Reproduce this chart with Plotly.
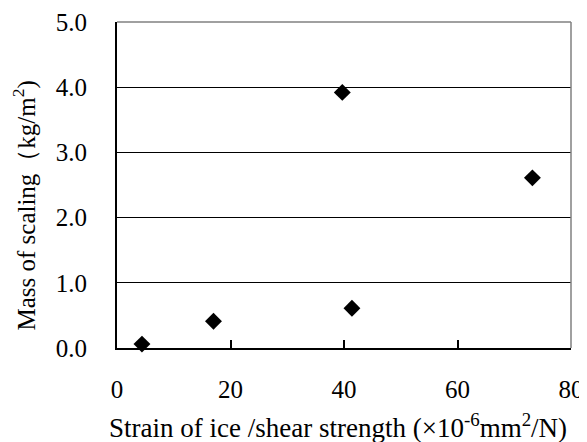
import plotly.graph_objects as go

strain = [4.4, 17.0, 39.7, 41.4, 73.2]
scaling = [0.06, 0.41, 3.92, 0.61, 2.61]
x_ticks = [0, 20, 40, 60, 80]
y_ticks = [0.0, 1.0, 2.0, 3.0, 4.0, 5.0]
y_tick_labels = ["0.0", "1.0", "2.0", "3.0", "4.0", "5.0"]
x_title = "Strain of ice /shear strength (×10<sup>-6</sup>mm<sup>2</sup>/N)"
y_title = "Mass of scaling（kg/m<sup>2</sup>)"

font = "Liberation Serif"

fig = go.Figure()
fig.add_trace(go.Scatter(
    x=strain, y=scaling, mode="markers",
    marker=dict(symbol="diamond", size=13, color="black"),
    showlegend=False, cliponaxis=False,
))

# page body has an 8px default margin, so figure is 8px smaller
fig.update_layout(
    width=579, height=434,
    margin=dict(l=109, r=16, t=14, b=94, autoexpand=False),
    paper_bgcolor="white", plot_bgcolor="white",
    font=dict(family=font, size=25, color="black"),
    xaxis=dict(
        range=[0, 80], tickvals=x_ticks, ticks="inside", ticklen=8,
        tickwidth=1.5, tickcolor="black", automargin=False,
        tickfont=dict(family=font, size=25), ticklabeloverflow="allow",
        showgrid=False, zeroline=False,
        showline=True, linecolor="black", linewidth=2, mirror=False,
        ticklabelstandoff=18,
    ),
    yaxis=dict(
        range=[0, 5], tickvals=y_ticks, ticktext=y_tick_labels, automargin=False,
        tickfont=dict(family=font, size=25), ticklabeloverflow="allow",
        ticks="", showgrid=True, gridcolor="black", gridwidth=1.2,
        zeroline=False, showline=True, linecolor="black", linewidth=2,
        ticklabelstandoff=23,
    ),
    annotations=[
        dict(text=x_title, xref="paper", yref="paper", x=0.487, y=-0.24,
             xanchor="center", yanchor="middle", showarrow=False,
             font=dict(family=font, size=27)),
        dict(text=y_title, xref="paper", yref="paper", x=-0.2026, y=0.437,
             xanchor="center", yanchor="middle", showarrow=False, textangle=-90,
             font=dict(family=font, size=25)),
    ],
)

# grey frame on top and right
fig.add_shape(type="line", xref="paper", yref="paper", x0=0, x1=1, y0=1, y1=1,
              line=dict(color="#808080", width=1.5))
fig.add_shape(type="line", xref="paper", yref="paper", x0=1, x1=1, y0=0, y1=1,
              line=dict(color="#808080", width=1.5))

fig.write_html("out.html")
